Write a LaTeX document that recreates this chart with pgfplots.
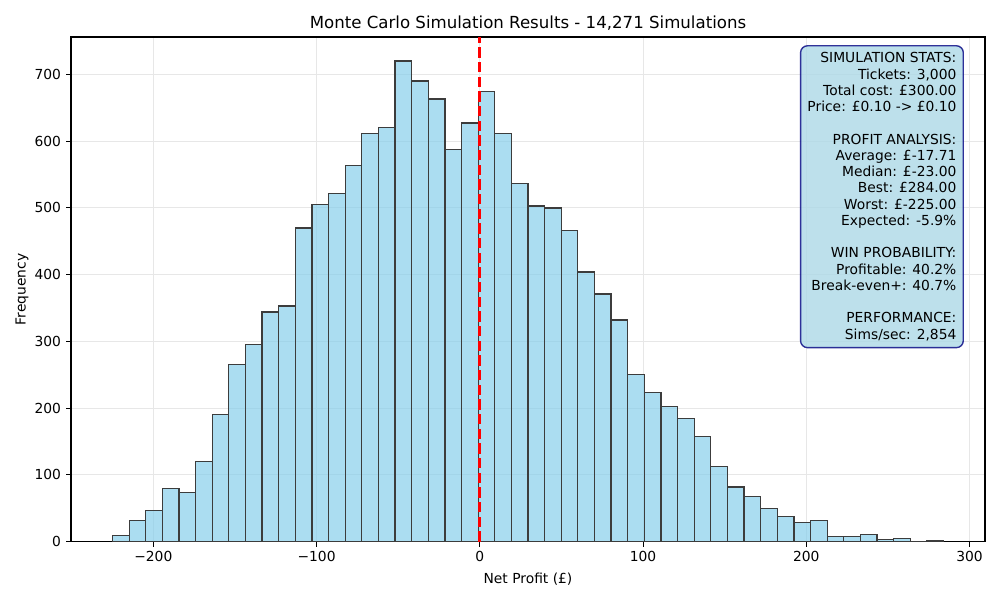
\documentclass[border=0pt]{standalone}
\usepackage{fontspec}
\setmainfont{DejaVu Sans}
\usepackage{pgfplots}
\pgfplotsset{compat=1.18}
\definecolor{skyblue}{HTML}{87CEEB}
\definecolor{lightblue}{HTML}{ADD8E6}
\definecolor{navy}{HTML}{000080}
\definecolor{gridgray}{RGB}{231,231,231}
\definecolor{edgegray}{RGB}{60,60,60}
\begin{document}
\begin{tikzpicture}
\useasboundingbox (-0.71in,-0.583in) rectangle (9.29in,5.417in);
\begin{axis}[
  at={(0,0)}, anchor=south west,
  scale only axis, width=9.14in, height=5.047in,
  xmin=-250.45, xmax=309.45, ymin=0, ymax=756,
  xtick={-200,-100,0,100,200,300},
  xticklabels={−200,−100,0,100,200,300},
  ytick={0,100,200,300,400,500,600,700},
  /pgf/number format/assume math mode=true,
  grid=major,
  major grid style={draw=gridgray, line width=0.8pt},
  axis line style={line width=0.8pt},
  tick style={line width=0.8pt, black},
  major tick length=3.5pt,
  tick align=outside,
  xtick pos=bottom, ytick pos=left,
  xticklabel style={anchor=north, inner sep=0pt, yshift=-3.5pt},
  yticklabel style={anchor=east, inner sep=0pt, xshift=-3.5pt},
  title={Monte Carlo Simulation Results - 14,271 Simulations},
  title style={at={(axis description cs:0.5,1)}, anchor=base, font=\fontsize{12}{14}\selectfont},
  xlabel={Net Profit (£)},
  xlabel style={at={(axis description cs:0.5,-0.0733)}, anchor=center},
  ylabel={Frequency},
  ylabel style={at={(axis description cs:-0.0536,0.5)}, anchor=center},
]
\addplot[ybar interval, fill=skyblue, fill opacity=0.7, draw=edgegray, line width=0.9pt] coordinates {
(-225.00,9) (-214.82,32) (-204.64,47) (-194.46,80) (-184.28,74)
(-174.10,120) (-163.92,191) (-153.74,265) (-143.56,295) (-133.38,344)
(-123.20,353) (-113.02,470) (-102.84,505) (-92.66,522) (-82.48,563)
(-72.30,612) (-62.12,620) (-51.94,720) (-41.76,690) (-31.58,663)
(-21.40,587) (-11.22,627) (-1.04,674) (9.14,611) (19.32,536)
(29.50,503) (39.68,500) (49.86,466) (60.04,404) (70.22,371)
(80.40,332) (90.58,251) (100.76,224) (110.94,203) (121.12,185)
(131.30,158) (141.48,113) (151.66,82) (161.84,68) (172.02,50)
(182.20,38) (192.38,29) (202.56,32) (212.74,8) (222.92,8)
(233.10,11) (243.28,3) (253.46,5) (263.64,0) (273.82,2)
(284.00,2)
};
\addplot[red, line width=2pt, dash pattern=on 7.4pt off 3.2pt] coordinates {(0,0) (0,756)};
\node[anchor=north east, align=right, fill=lightblue, fill opacity=0.8, draw=navy, draw opacity=0.8, text opacity=1, line width=1pt, rounded corners=5pt, inner xsep=5pt, inner ysep=5pt, font=\fontsize{10}{11.74}\selectfont]
  at (rel axis cs:0.977,0.984) {SIMULATION STATS:\\
Tickets: 3,000\\
Total cost: £300.00\\
Price: £0.10 -> £0.10\\[11.74pt]
PROFIT ANALYSIS:\\
Average: £-17.71\\
Median: £-23.00\\
Best: £284.00\\
Worst: £-225.00\\
Expected: -5.9\%\\[11.74pt]
WIN PROBABILITY:\\
Profitable: 40.2\%\\
Break-even+: 40.7\%\\[11.74pt]
PERFORMANCE:\\
Sims/sec: 2,854};
\end{axis}
\end{tikzpicture}
\end{document}
